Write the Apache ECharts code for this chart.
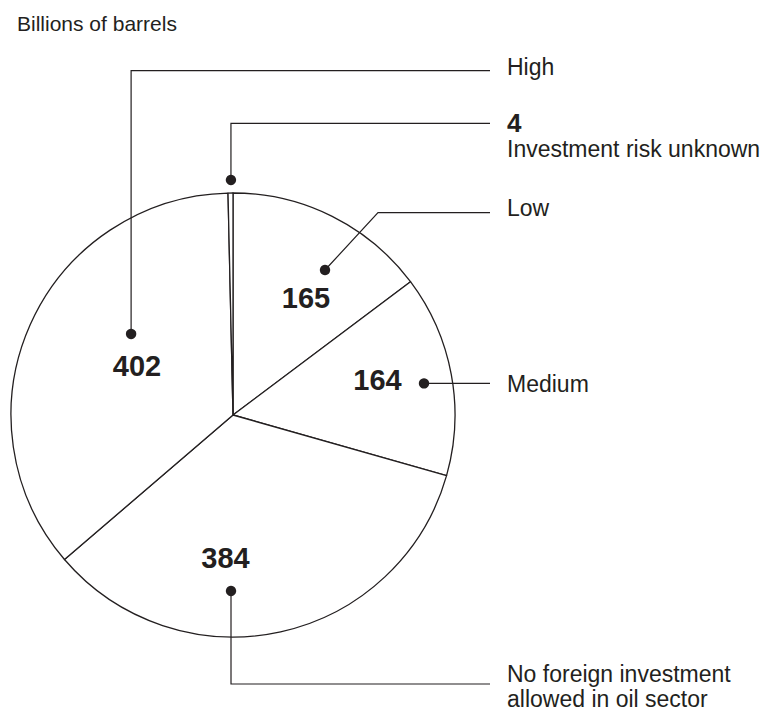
<!DOCTYPE html>
<html><head><meta charset="utf-8">
<script src="https://cdn.jsdelivr.net/npm/echarts@6/dist/echarts.min.js"></script>
<style>html,body{margin:0;padding:0;background:#fff}#chart{width:771px;height:713px}</style>
</head><body><div id="chart"></div>
<script>
// ---- data ----
const categories = ['Low', 'Medium', 'No foreign investment\nallowed in oil sector', 'High', 'Investment risk unknown'];
const values = [165, 164, 384, 402, 4];
const unitLabel = 'Billions of barrels';

// ---- layout / style config ----
const INK = '#231f20';
const FONT = '"Liberation Sans", Arial, Helvetica, sans-serif';
const CX = 233, CY = 415, R = 222;
function polar(angleDeg, r) {
  const a = angleDeg * Math.PI / 180;
  return [CX + r * Math.sin(a), CY - r * Math.cos(a)];
}
// polar anchors: [angle clockwise from top (deg), radius px]
const numberAnchor = [[31.85, 138.3], [76.4, 148.7], [183, 142.7], [297, 107.8], null];
const dotAnchor = [[32.4, 171.7], [80.6, 193.6], [180.65, 176], [308.5, 130.2], [-0.5, 235]];
const leaderY = [212.7, null, 684, 70.7, 123.3];
const elbowDx = [53, 0, 0, 0, 0];
const textY = [207.5, 384, 686, 66.5, 135];
const LINE_END = 490, TEXT_X = 507;

const dots = dotAnchor.map(a => polar(a[0], a[1]));

const chart = echarts.init(document.getElementById('chart'), null, { renderer: 'svg' });

const sliceData = categories.map((c, i) => ({
  name: c, value: values[i],
  label: { show: numberAnchor[i] !== null }
}));
const calloutData = categories.map((c, i) => ({ name: c, value: values[i] }));

chart.setOption({
  animation: false,
  title: {
    text: unitLabel, left: 12, top: 8,
    textStyle: { fontFamily: FONT, fontSize: 21, fontWeight: 'normal', color: INK }
  },
  graphic: dots.map(p => ({
    type: 'circle', z: 100,
    shape: { cx: p[0], cy: p[1], r: 5.2 },
    style: { fill: INK }
  })),
  series: [
    {
      type: 'pie',
      center: [CX, CY], radius: R,
      startAngle: 90, clockwise: true,
      avoidLabelOverlap: false,
      silent: true,
      emphasis: { disabled: true },
      itemStyle: { color: '#ffffff', borderColor: INK, borderWidth: 1.3 },
      label: {
        position: 'inside', formatter: '{c}',
        fontFamily: FONT, fontSize: 29, fontWeight: 'bold', color: INK
      },
      labelLine: { show: false },
      labelLayout: function (params) {
        const a = numberAnchor[params.dataIndex];
        if (!a) return {};
        const p = polar(a[0], a[1]);
        return { x: p[0], y: p[1], align: 'center', verticalAlign: 'middle' };
      },
      data: sliceData
    },
    {
      type: 'pie',
      center: [CX, CY], radius: R,
      startAngle: 90, clockwise: true,
      avoidLabelOverlap: false,
      silent: true,
      z: 5,
      emphasis: { disabled: true },
      itemStyle: { color: 'rgba(0,0,0,0)', borderWidth: 0 },
      label: {
        position: 'outside',
        fontFamily: FONT, color: INK,
        formatter: function (p) {
          if (p.dataIndex === 4) return '{v|' + p.value + '}\n{t|' + p.name + '}';
          return p.name.split('\n').map(s => '{t|' + s + '}').join('\n');
        },
        rich: {
          t: { fontFamily: FONT, fontSize: 23, lineHeight: 25, color: INK },
          v: { fontFamily: FONT, fontSize: 26, fontWeight: 'bold', lineHeight: 27, color: INK }
        }
      },
      labelLine: { show: true, length: 10, length2: 10, lineStyle: { color: INK, width: 1.2 } },
      labelLayout: function (params) {
        const i = params.dataIndex;
        const d = dots[i];
        const ly = leaderY[i] === null ? d[1] : leaderY[i];
        return {
          x: TEXT_X, y: textY[i], align: 'left', verticalAlign: 'middle',
          labelLinePoints: [[d[0], d[1]], [d[0] + elbowDx[i], ly], [LINE_END, ly]]
        };
      },
      data: calloutData
    }
  ]
});
</script></body></html>
